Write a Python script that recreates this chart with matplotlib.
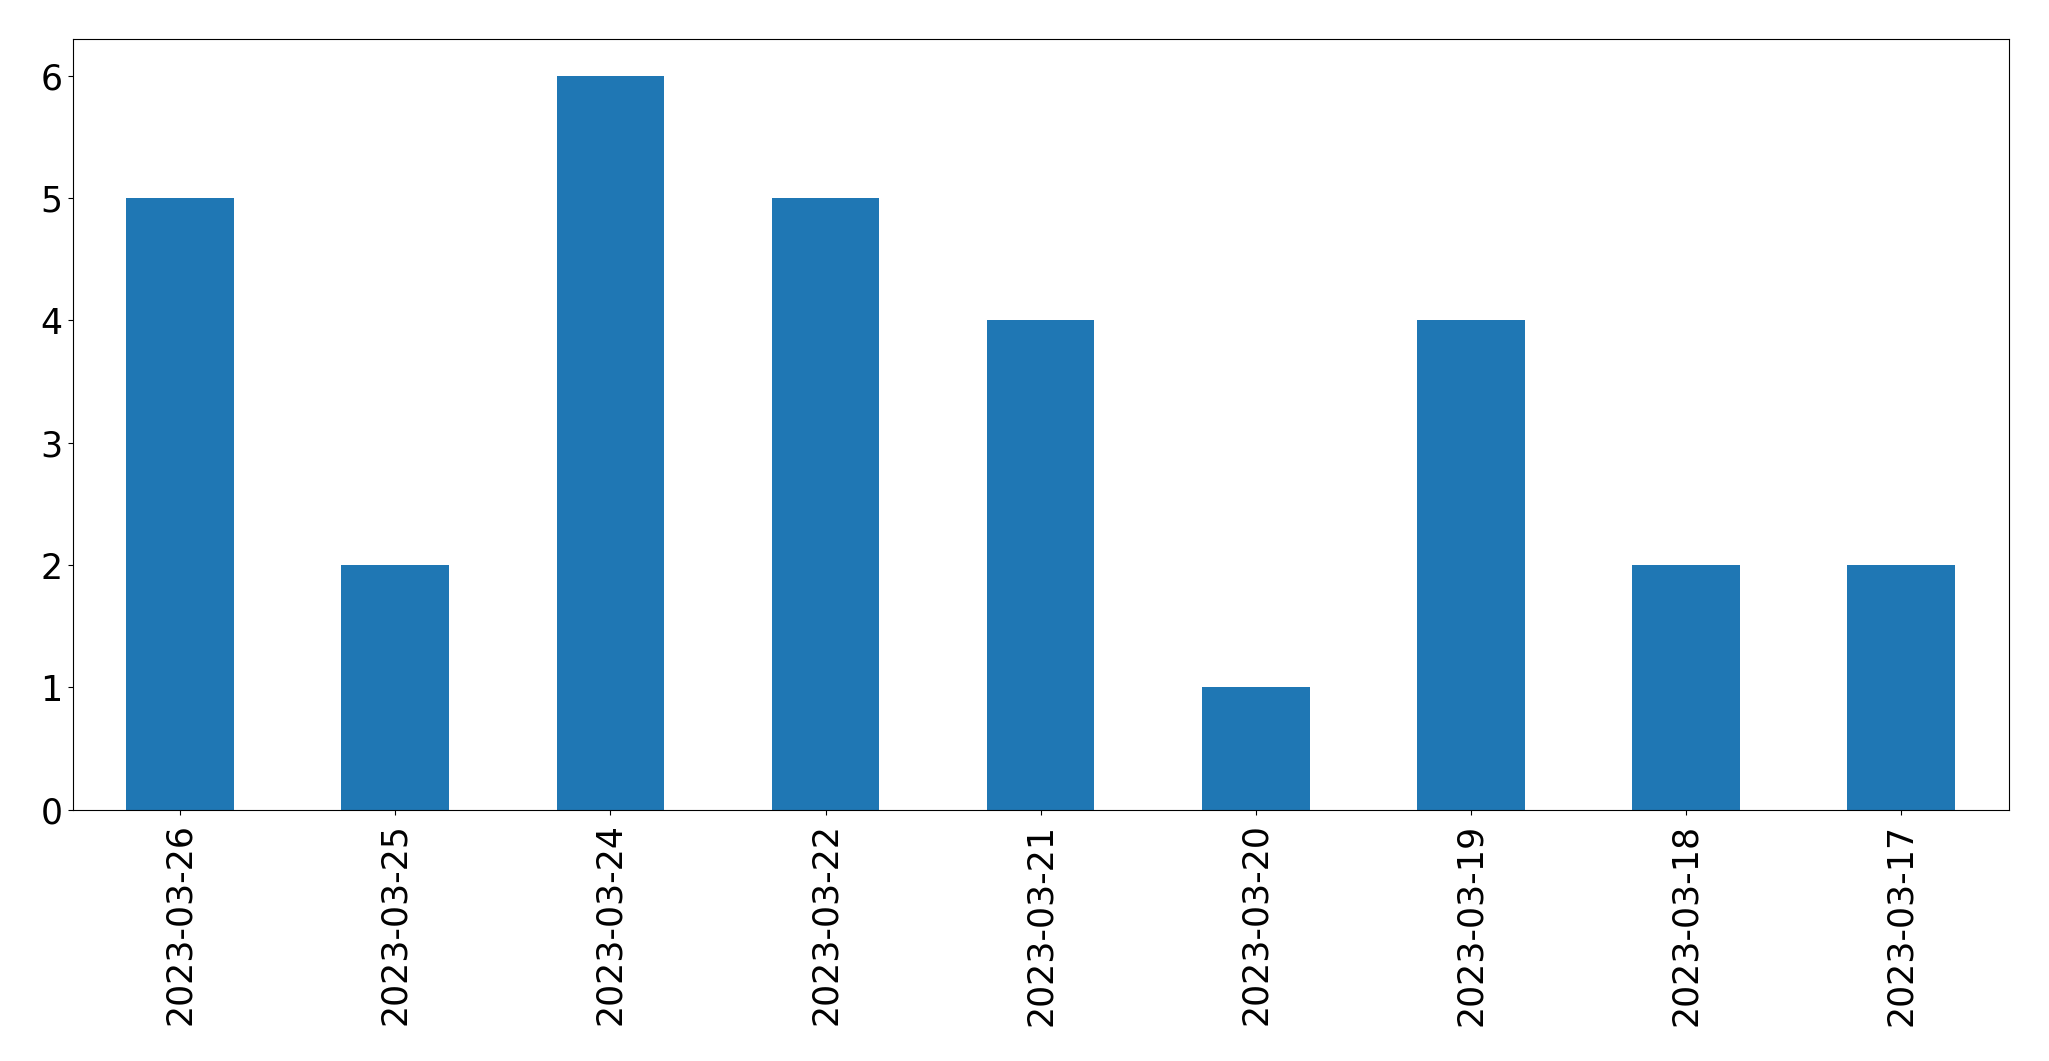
import matplotlib
matplotlib.use("Agg")
import matplotlib.pyplot as plt
import pandas as pd

# daily counts, newest first (as in the source chart)
dates = ["2023-03-26", "2023-03-25", "2023-03-24", "2023-03-22", "2023-03-21",
         "2023-03-20", "2023-03-19", "2023-03-18", "2023-03-17"]
counts = [5, 2, 6, 5, 4, 1, 4, 2, 2]

s = pd.Series(counts, index=dates)

fig = plt.figure(figsize=(20.49, 10.61), dpi=100)
ax = fig.add_axes([0.0354, 0.237, 0.9450, 0.726])
s.plot(kind="bar", ax=ax, color="#1f77b4", width=0.5)

ax.tick_params(axis="both", labelsize=25)
ax.tick_params(axis="x", pad=6.5)
ax.set_xlabel("")

fig.savefig("out.png", dpi=100)
